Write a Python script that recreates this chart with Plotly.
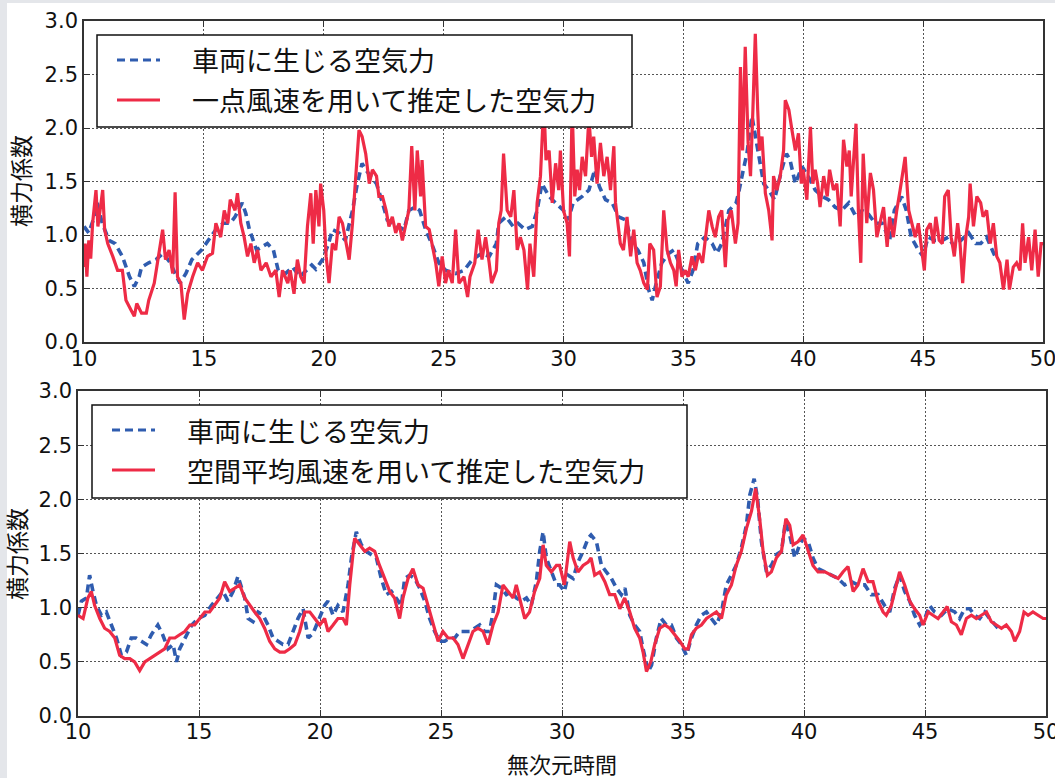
import plotly.graph_objects as go

# ---- Upper panel: force on the vehicle vs. estimate from single-point wind speed ----
top_blue_t = [10.0, 10.2, 10.4, 10.55, 10.76, 11.04, 11.3, 11.6, 11.9, 12.1, 12.3, 12.4, 12.7, 13.0, 13.3, 13.6,
              13.8, 14.0, 14.25, 14.5, 14.9, 15.2, 15.5, 15.8, 16.1, 16.3, 16.6, 16.75, 16.9, 17.2, 17.4, 17.65,
              17.9, 18.1, 18.4, 18.7, 19.0, 19.25, 19.5, 19.67, 19.95, 20.2, 20.36, 20.64, 20.9, 21.2, 21.4, 21.6,
              21.75, 21.96, 22.2, 22.45, 22.65, 22.86, 23.1, 23.35, 23.55, 23.8, 24.0, 24.25, 24.5, 24.8, 25.08,
              25.5, 25.85, 26.2, 26.6, 26.9, 27.2, 27.3, 27.6, 27.9, 28.1, 28.4, 28.7, 28.9, 29.1, 29.4, 29.67,
              30.0, 30.2, 30.4, 30.78, 31.06, 31.3, 31.5, 31.75, 32.03, 32.3, 32.6, 32.86, 33.1, 33.35, 33.55,
              33.7, 33.8, 34.1, 34.4, 34.6, 34.8, 35.0, 35.2, 35.4, 35.6, 35.9, 36.2, 36.4, 36.6, 36.9, 37.2, 37.3,
              37.5, 37.65, 37.86, 38.0, 38.2, 38.35, 38.56, 38.8, 39.1, 39.3, 39.45, 39.67, 39.95, 40.2, 40.5,
              40.8, 41.05, 41.33, 41.6, 41.9, 42.2, 42.45, 42.7, 43.0, 43.3, 43.6, 43.8, 44.1, 44.3, 44.5, 44.8,
              45.0, 45.2, 45.5, 45.8, 46.05, 46.3, 46.6, 46.9, 47.2, 47.4, 47.65, 47.86, 48.0]
top_blue_v = [1.08, 1.02, 1.15, 1.30, 1.11, 0.95, 0.92, 0.80, 0.61, 0.52, 0.61, 0.70, 0.74, 0.77, 0.83, 0.74,
              0.64, 0.55, 0.64, 0.77, 0.86, 0.95, 1.05, 1.11, 1.11, 1.17, 1.30, 1.20, 1.05, 0.86, 0.89, 0.92,
              0.86, 0.67, 0.64, 0.70, 0.61, 0.66, 0.72, 0.68, 0.77, 0.92, 1.05, 1.02, 0.95, 1.23, 1.48, 1.67,
              1.61, 1.55, 1.48, 1.30, 1.14, 1.11, 1.08, 1.05, 1.23, 1.26, 1.23, 1.05, 0.92, 0.74, 0.67,
              0.64, 0.67, 0.77, 0.83, 0.80, 0.92, 1.11, 1.17, 1.08, 1.11, 1.05, 1.08, 1.23, 1.48, 1.36, 1.30,
              1.23, 1.14, 1.30, 1.36, 1.42, 1.61, 1.45, 1.33, 1.30, 1.17, 1.14, 0.92, 0.86, 0.74, 0.49,
              0.39, 0.49, 0.74, 0.83, 0.86, 0.74, 0.64, 0.55, 0.67, 0.92, 0.98, 0.92, 0.83, 0.92, 1.23, 1.30, 1.39,
              1.61, 1.76, 2.11, 1.92, 1.67, 1.48, 1.42, 1.33, 1.61, 1.76, 1.70, 1.48, 1.64, 1.55, 1.42,
              1.36, 1.33, 1.26, 1.23, 1.30, 1.17, 1.23, 1.20, 1.11, 1.11, 0.95, 1.23, 1.36, 1.23, 0.98, 0.86,
              0.80, 0.98, 0.95, 0.95, 0.98, 0.89, 0.95, 1.02, 0.92, 0.92, 0.98, 0.86, 0.80]

top_red_t = [10.0, 10.05, 10.12, 10.2, 10.28, 10.36, 10.5, 10.58, 10.67, 10.78, 10.86, 10.99, 11.2, 11.4, 11.6,
             11.75, 11.96, 12.1, 12.2, 12.4, 12.6, 12.7, 12.93, 13.07, 13.28, 13.4, 13.55, 13.7, 13.8, 13.9,
             14.04, 14.18, 14.32, 14.53, 14.74, 14.94, 15.15, 15.36, 15.5, 15.7, 15.85, 16.0, 16.1, 16.3, 16.4,
             16.54, 16.68, 16.82, 16.96, 17.1, 17.24, 17.38, 17.6, 17.8, 18.0, 18.14, 18.28, 18.5, 18.6, 18.76,
             18.9, 19.04, 19.18, 19.32, 19.46, 19.56, 19.67, 19.8, 19.87, 20.0, 20.1, 20.22, 20.36, 20.5, 20.64,
             20.78, 20.92, 21.06, 21.2, 21.33, 21.47, 21.6, 21.75, 21.9, 22.03, 22.2, 22.3, 22.45, 22.6, 22.72,
             22.86, 23.0, 23.14, 23.28, 23.42, 23.55, 23.67, 23.8, 23.9, 24.04, 24.1, 24.25, 24.4, 24.5, 24.67,
             24.8, 24.94, 25.08, 25.2, 25.36, 25.5, 25.64, 25.85, 26.0, 26.1, 26.3, 26.44, 26.6, 26.75, 26.9,
             27.0, 27.2, 27.3, 27.4, 27.5, 27.65, 27.8, 27.93, 28.07, 28.2, 28.35, 28.5, 28.6, 28.76, 28.9,
             29.04, 29.18, 29.27, 29.4, 29.53, 29.67, 29.8, 29.87, 30.0, 30.15, 30.25, 30.36, 30.47, 30.57,
             30.67, 30.78, 30.92, 31.06, 31.17, 31.26, 31.4, 31.54, 31.68, 31.82, 31.96, 32.1, 32.17, 32.28,
             32.37, 32.5, 32.65, 32.8, 32.93, 33.07, 33.2, 33.35, 33.5, 33.6, 33.76, 33.9, 34.04, 34.18, 34.32,
             34.46, 34.6, 34.7, 34.8, 34.94, 35.08, 35.2, 35.36, 35.5, 35.64, 35.8, 35.9, 36.06, 36.2, 36.33,
             36.47, 36.6, 36.75, 36.86, 37.0, 37.17, 37.28, 37.38, 37.47, 37.58, 37.7, 37.8, 37.9, 38.0, 38.1,
             38.17, 38.28, 38.42, 38.56, 38.7, 38.76, 38.9, 39.04, 39.18, 39.25, 39.4, 39.53, 39.67, 39.8,
             39.92, 40.0, 40.15, 40.3, 40.4, 40.5, 40.6, 40.7, 40.85, 41.0, 41.1, 41.26, 41.4, 41.54, 41.68,
             41.82, 41.92, 42.0, 42.1, 42.2, 42.3, 42.4, 42.5, 42.65, 42.8, 42.93, 43.07, 43.2, 43.35, 43.5,
             43.6, 43.76, 43.9, 44.04, 44.14, 44.25, 44.4, 44.53, 44.67, 44.8, 44.9, 45.05, 45.15, 45.3, 45.43,
             45.53, 45.67, 45.8, 45.9, 46.05, 46.17, 46.3, 46.44, 46.54, 46.65, 46.78, 46.9, 46.96, 47.1, 47.24,
             47.4, 47.5, 47.65, 47.8, 47.93, 48.07, 48.2, 48.35, 48.5, 48.6, 48.76, 48.9, 49.04, 49.15, 49.25,
             49.4, 49.53, 49.67, 49.8, 49.92, 50.0]
top_red_v = [0.70, 0.92, 0.61, 0.95, 0.78, 1.11, 1.42, 1.08, 1.23, 1.42, 1.05, 0.92, 0.80, 0.67, 0.67,
             0.39, 0.30, 0.24, 0.36, 0.27, 0.27, 0.39, 0.55, 0.74, 1.05, 0.77, 0.86, 0.64, 1.40, 0.61,
             0.55, 0.21, 0.45, 0.61, 0.74, 0.67, 0.80, 0.83, 1.11, 0.98, 1.23, 1.11, 1.33, 1.23, 1.39,
             1.11, 0.98, 0.80, 0.92, 0.74, 0.86, 0.67, 0.74, 0.61, 0.67, 0.42, 0.67, 0.55, 0.67, 0.45,
             0.77, 0.61, 0.55, 1.08, 1.39, 0.92, 1.42, 1.08, 1.48, 1.23, 0.80, 0.55, 0.92, 0.86, 1.17,
             1.11, 0.92, 0.77, 1.11, 1.55, 1.98, 1.92, 1.76, 1.48, 1.61, 1.55, 1.36, 1.36, 1.23, 1.08,
             1.17, 1.02, 1.11, 0.95, 1.08, 1.23, 1.83, 1.23, 1.79, 1.36, 1.70, 1.08, 1.05, 0.92, 0.74,
             0.52, 0.80, 0.55, 0.67, 0.55, 1.05, 0.55, 0.61, 0.42, 0.61, 0.74, 1.05, 0.77, 0.98, 0.74,
             0.55, 0.67, 1.11, 1.23, 1.76, 1.23, 1.17, 1.42, 0.86, 0.98, 0.86, 0.49, 0.92, 0.61, 1.30,
             1.55, 2.25, 1.70, 1.79, 1.30, 1.67, 1.42, 1.79, 1.23, 1.11, 0.80, 2.20, 1.36, 1.61,
             1.42, 1.73, 1.55, 2.10, 1.73, 1.92, 1.48, 1.86, 1.55, 1.73, 1.42, 1.83, 1.30, 1.11,
             0.92, 0.86, 1.17, 0.80, 1.05, 0.74, 0.67, 0.55, 0.49, 0.92, 0.86, 0.42, 0.52, 1.23, 0.86,
             0.74, 0.67, 0.52, 0.86, 0.61, 0.67, 0.61, 0.80, 0.67, 0.83, 0.74, 0.95, 1.23, 1.08, 0.98,
             1.17, 1.23, 0.70, 1.14, 1.23, 0.92, 1.11, 2.57, 1.79, 2.76, 1.86, 1.55, 2.17, 2.88, 2.17,
             1.79, 1.92, 1.39, 1.23, 0.95, 1.55, 1.42, 1.55, 1.79, 2.26, 2.17, 1.98, 1.79, 1.95,
             1.48, 1.61, 1.33, 2.01, 1.48, 1.61, 1.48, 1.26, 1.55, 1.36, 1.61, 1.42, 1.48, 1.08, 1.89,
             1.64, 1.79, 1.36, 1.76, 2.04, 1.23, 0.74, 1.76, 1.11, 1.58, 1.42, 0.98, 1.11, 1.26, 0.89,
             1.17, 0.98, 1.23, 1.42, 1.55, 1.73, 1.23, 1.11, 0.98, 1.11, 0.92, 0.67, 1.05, 1.11, 0.92,
             1.17, 0.95, 0.92, 1.36, 1.42, 0.98, 0.80, 1.11, 0.92, 0.55, 0.98, 1.17, 1.48, 1.08, 1.36,
             1.30, 1.17, 1.23, 0.92, 1.11, 0.80, 0.74, 0.49, 0.77, 0.49, 0.70, 0.74, 0.67, 1.11, 0.74,
             0.98, 0.67, 1.05, 0.61, 0.92, 0.92]

# ---- Lower panel: force on the vehicle vs. estimate from spatially averaged wind speed ----
bot_blue_t = [10.0, 10.14, 10.35, 10.48, 10.62, 10.76, 10.97, 11.17, 11.38, 11.59, 11.79, 12.0, 12.2, 12.4,
              12.62, 12.83, 13.03, 13.3, 13.5, 13.72, 13.93, 14.07, 14.2, 14.41, 14.7, 14.96, 15.24, 15.51,
              15.79, 15.99, 16.2, 16.41, 16.61, 16.75, 16.89, 17.03, 17.23, 17.44, 17.65, 17.85, 18.06, 18.27,
              18.47, 18.68, 18.89, 19.09, 19.3, 19.51, 19.71, 19.99, 20.19, 20.33, 20.54, 20.74, 20.95, 21.16,
              21.3, 21.5, 21.71, 21.91, 22.12, 22.33, 22.53, 22.74, 22.95, 23.15, 23.36, 23.5, 23.71, 23.91,
              24.12, 24.33, 24.53, 24.74, 24.95, 25.15, 25.36, 25.57, 25.77, 25.98, 26.19, 26.39, 26.6, 26.8,
              27.01, 27.15, 27.29, 27.5, 27.7, 27.91, 28.11, 28.32, 28.53, 28.73, 28.94, 29.08, 29.22, 29.35,
              29.56, 29.77, 29.9, 30.1, 30.25, 30.46, 30.66, 30.87, 31.08, 31.2, 31.42, 31.63, 31.83, 32.04,
              32.25, 32.45, 32.6, 32.8, 33.0, 33.21, 33.35, 33.56, 33.7, 33.9, 34.1, 34.31, 34.52, 34.73,
              34.93, 35.14, 35.35, 35.55, 35.76, 35.97, 36.17, 36.38, 36.59, 36.79, 37.0, 37.2, 37.41, 37.62,
              37.76, 37.94, 38.08, 38.24, 38.45, 38.65, 38.86, 39.07, 39.23, 39.41, 39.62, 39.82, 39.96, 40.17,
              40.37, 40.58, 40.86, 41.13, 41.41, 41.68, 41.96, 42.23, 42.51, 42.78, 43.06, 43.33, 43.54, 43.75,
              43.95, 44.16, 44.37, 44.57, 44.78, 44.99, 45.19, 45.4, 45.68, 45.95, 46.23, 46.43, 46.64, 46.85,
              47.05, 47.26, 47.47, 47.67, 47.88, 48.02]
bot_blue_v = [0.93, 1.06, 1.09, 1.30, 1.15, 1.02, 0.93, 0.96, 0.84, 0.72, 0.56, 0.59, 0.72, 0.72,
              0.69, 0.66, 0.75, 0.84, 0.75, 0.62, 0.66, 0.50, 0.62, 0.72, 0.84, 0.90, 0.93, 1.02,
              1.09, 1.15, 1.06, 1.15, 1.29, 1.18, 1.09, 0.90, 0.87, 0.96, 0.93, 0.84, 0.72, 0.69,
              0.66, 0.66, 0.78, 0.90, 0.99, 0.72, 0.76, 0.90, 1.02, 1.06, 0.93, 1.02, 0.96, 1.21,
              1.46, 1.70, 1.58, 1.52, 1.49, 1.46, 1.27, 1.12, 1.15, 1.09, 1.02, 1.27, 1.30, 1.27,
              1.18, 1.06, 0.90, 0.78, 0.69, 0.69, 0.72, 0.72, 0.78, 0.78, 0.78, 0.81, 0.84, 0.78,
              0.78, 0.96, 1.21, 1.18, 1.12, 1.15, 1.09, 1.06, 1.09, 1.02, 1.24, 1.52, 1.70, 1.46,
              1.33, 1.21, 1.21, 1.15, 1.30, 1.27, 1.42, 1.52, 1.64, 1.67, 1.61, 1.39, 1.33, 1.27,
              1.18, 1.12, 1.18, 0.93, 0.84, 0.78, 0.62, 0.41, 0.47, 0.72, 0.90, 0.84, 0.84, 0.72,
              0.66, 0.56, 0.72, 0.84, 0.93, 0.96, 0.90, 0.84, 0.96, 1.21, 1.30, 1.39, 1.55, 1.76,
              2.04, 2.19, 2.01, 1.61, 1.33, 1.39, 1.49, 1.52, 1.79, 1.67, 1.46, 1.58, 1.64, 1.61,
              1.46, 1.36, 1.33, 1.30, 1.27, 1.21, 1.24, 1.21, 1.21, 1.12, 1.12, 1.02, 0.96, 1.18,
              1.30, 1.15, 1.06, 0.93, 0.84, 0.90, 1.02, 0.96, 0.93, 0.99, 0.96, 0.90, 0.99, 0.99,
              0.93, 0.90, 0.96, 0.90, 0.84, 0.81]

bot_red_t = [10.0, 10.21, 10.41, 10.55, 10.69, 10.9, 11.1, 11.31, 11.52, 11.72, 11.93, 12.14, 12.34, 12.55,
             12.76, 12.96, 13.17, 13.38, 13.58, 13.79, 14.0, 14.2, 14.41, 14.62, 14.82, 15.03, 15.24, 15.44,
             15.65, 15.86, 16.06, 16.27, 16.48, 16.68, 16.89, 17.1, 17.3, 17.51, 17.71, 17.92, 18.13, 18.34,
             18.54, 18.75, 18.96, 19.16, 19.37, 19.58, 19.78, 19.99, 20.19, 20.33, 20.54, 20.74, 20.95, 21.09,
             21.23, 21.43, 21.64, 21.85, 22.05, 22.26, 22.46, 22.67, 22.88, 23.08, 23.29, 23.43, 23.64, 23.84,
             24.05, 24.26, 24.46, 24.67, 24.88, 25.08, 25.29, 25.5, 25.7, 25.91, 26.12, 26.32, 26.53, 26.74,
             26.94, 27.15, 27.36, 27.56, 27.77, 27.98, 28.11, 28.32, 28.46, 28.66, 28.87, 29.08, 29.22, 29.35,
             29.56, 29.77, 29.9, 30.1, 30.32, 30.46, 30.66, 30.87, 31.08, 31.2, 31.35, 31.56, 31.77, 31.97,
             32.18, 32.39, 32.59, 32.8, 33.0, 33.21, 33.35, 33.49, 33.67, 33.83, 34.04, 34.25, 34.45, 34.66,
             34.87, 35.07, 35.21, 35.35, 35.55, 35.76, 35.97, 36.17, 36.38, 36.59, 36.79, 37.0, 37.2, 37.41,
             37.62, 37.83, 38.0, 38.17, 38.31, 38.49, 38.65, 38.86, 39.07, 39.25, 39.41, 39.55, 39.76, 39.96,
             40.17, 40.37, 40.58, 40.86, 41.13, 41.41, 41.61, 41.82, 42.03, 42.23, 42.44, 42.65, 42.85, 43.06,
             43.27, 43.4, 43.61, 43.82, 43.95, 44.16, 44.37, 44.57, 44.78, 44.92, 45.13, 45.33, 45.54, 45.75,
             45.92, 46.09, 46.3, 46.5, 46.71, 46.92, 47.12, 47.33, 47.54, 47.74, 47.95, 48.16, 48.36, 48.57,
             48.71, 48.91, 49.09, 49.26, 49.46, 49.67, 49.88, 50.0]
bot_red_v = [0.93, 0.90, 1.09, 1.15, 1.02, 0.90, 0.81, 0.78, 0.72, 0.56, 0.53, 0.53, 0.50, 0.42,
             0.50, 0.53, 0.56, 0.59, 0.62, 0.72, 0.72, 0.75, 0.78, 0.84, 0.84, 0.90, 0.96, 0.96,
             1.02, 1.09, 1.24, 1.15, 1.18, 1.21, 1.09, 1.02, 0.96, 0.90, 0.81, 0.69, 0.62, 0.59,
             0.59, 0.62, 0.66, 0.78, 0.96, 0.96, 0.90, 0.84, 0.90, 0.78, 0.84, 0.90, 0.90, 0.84,
             1.21, 1.64, 1.58, 1.52, 1.55, 1.52, 1.39, 1.27, 1.15, 1.09, 0.90, 1.09, 1.27, 1.36,
             1.21, 1.18, 1.02, 0.84, 0.69, 0.78, 0.72, 0.72, 0.66, 0.53, 0.66, 0.78, 0.81, 0.78,
             0.66, 0.84, 0.96, 1.21, 1.15, 1.09, 1.21, 1.02, 0.90, 0.96, 1.15, 1.27, 1.58, 1.39,
             1.33, 1.39, 1.39, 1.21, 1.61, 1.46, 1.33, 1.39, 1.42, 1.46, 1.30, 1.33, 1.24, 1.12,
             1.12, 0.99, 1.09, 0.96, 0.81, 0.72, 0.59, 0.41, 0.50, 0.66, 0.81, 0.84, 0.81, 0.75,
             0.69, 0.62, 0.62, 0.75, 0.81, 0.84, 0.90, 0.93, 0.96, 0.90, 1.12, 1.21, 1.39, 1.52,
             1.73, 1.89, 2.10, 1.82, 1.52, 1.30, 1.33, 1.46, 1.52, 1.82, 1.76, 1.58, 1.61, 1.67,
             1.52, 1.39, 1.33, 1.33, 1.30, 1.27, 1.33, 1.38, 1.15, 1.21, 1.36, 1.24, 1.24, 1.06,
             0.96, 0.93, 1.02, 1.21, 1.33, 1.21, 1.06, 0.99, 0.93, 0.84, 0.96, 0.93, 0.90, 0.96,
             1.01, 0.87, 0.84, 0.75, 0.90, 0.93, 0.90, 0.93, 0.96, 0.87, 0.84, 0.81, 0.84, 0.78,
             0.69, 0.78, 0.96, 0.93, 0.96, 0.93, 0.90, 0.90]

# ---- Text ----
name_vehicle = "車両に生じる空気力"
name_point = "一点風速を用いて推定した空気力"
name_spatial = "空間平均風速を用いて推定した空気力"
y_title = "横力係数"
x_title = "無次元時間"

x_ticks = [10, 15, 20, 25, 30, 35, 40, 45, 50]
y_ticks = [0.0, 0.5, 1.0, 1.5, 2.0, 2.5, 3.0]

BLUE = "#2f5caf"
RED = "#ee2b46"
EDGE = "#e4e6ea"
W, H = 1055, 778
CJK = "Noto Sans CJK JP"
NUM = "DejaVu Sans"
BLUE_DASH = "8px,5px"


def px(x):
    return x / W


def py(y):
    return 1 - y / H


fig = go.Figure()
fig.add_trace(go.Scatter(x=top_blue_t, y=top_blue_v, mode="lines", name=name_vehicle,
                         line=dict(color=BLUE, width=3.6, dash=BLUE_DASH), xaxis="x", yaxis="y",
                         showlegend=False))
fig.add_trace(go.Scatter(x=top_red_t, y=top_red_v, mode="lines", name=name_point,
                         line=dict(color=RED, width=3.2), xaxis="x", yaxis="y", showlegend=False))
fig.add_trace(go.Scatter(x=bot_blue_t, y=bot_blue_v, mode="lines", name=name_vehicle,
                         line=dict(color=BLUE, width=3.6, dash=BLUE_DASH), xaxis="x2", yaxis="y2",
                         showlegend=False))
fig.add_trace(go.Scatter(x=bot_red_t, y=bot_red_v, mode="lines", name=name_spatial,
                         line=dict(color=RED, width=3.2), xaxis="x2", yaxis="y2", showlegend=False))

axis_common = dict(
    showline=True, linecolor="#333333", linewidth=1.6, mirror="allticks",
    ticks="inside", ticklen=6, tickwidth=1, tickcolor="#333333",
    showgrid=True, gridcolor="#555555", gridwidth=1, griddash="1.5px,2.5px",
    zeroline=False, tickfont=dict(family=NUM, size=21, color="#111111"),
    ticklabeloverflow="allow", automargin=False,
)

fig.update_layout(
    width=W, height=H, autosize=False,
    margin=dict(l=0, r=0, t=0, b=0, pad=0, autoexpand=False),
    paper_bgcolor="white", plot_bgcolor="white",
    xaxis=dict(domain=[px(84), px(1043)], range=[10, 50], tickvals=x_ticks, anchor="y",
               ticklabelstandoff=-3, **axis_common),
    yaxis=dict(domain=[py(342), py(21)], range=[0, 3], tickvals=y_ticks, tickformat=".1f",
               anchor="x", ticklabelstandoff=0, **axis_common),
    xaxis2=dict(domain=[px(78), px(1046)], range=[10, 50], tickvals=x_ticks, anchor="y2",
                ticklabelstandoff=-4, **axis_common),
    yaxis2=dict(domain=[py(716), py(391)], range=[0, 3], tickvals=y_ticks, tickformat=".1f",
                anchor="x2", ticklabelstandoff=0, **axis_common),
)

shapes = []
annotations = []

# thin light-grey frame strips along the left and top edges of the page
shapes.append(dict(type="rect", xref="paper", yref="paper", x0=0, x1=px(7), y0=0, y1=1,
                   fillcolor=EDGE, line=dict(width=0), layer="below"))
shapes.append(dict(type="rect", xref="paper", yref="paper", x0=0, x1=1, y0=py(3), y1=1,
                   fillcolor=EDGE, line=dict(width=0), layer="below"))


def add_legend(box, rows):
    x0, y0, x1, y1 = box
    shapes.append(dict(type="rect", xref="paper", yref="paper", x0=px(x0), x1=px(x1), y0=py(y1), y1=py(y0),
                       fillcolor="white", line=dict(color="#111111", width=1.5), layer="above"))
    for (label, color, dash, yrow) in rows:
        shapes.append(dict(type="line", xref="paper", yref="paper", x0=px(x0 + 20), x1=px(x0 + 63),
                           y0=py(yrow), y1=py(yrow), line=dict(color=color, width=3.2, dash=dash),
                           layer="above"))
        annotations.append(dict(text=label, xref="paper", yref="paper", x=px(x0 + 93), y=py(yrow),
                                xanchor="left", yanchor="middle", showarrow=False,
                                font=dict(family=CJK, size=27, color="#111111")))


add_legend((97, 35, 632, 127), [(name_vehicle, BLUE, BLUE_DASH, 60), (name_point, RED, "solid", 100)])
add_legend((92, 405, 687, 498), [(name_vehicle, BLUE, BLUE_DASH, 430), (name_spatial, RED, "solid", 470)])

annotations.append(dict(text=y_title, xref="paper", yref="paper", x=px(20), y=py(181), textangle=-90,
                        xanchor="center", yanchor="middle",
                        showarrow=False, font=dict(family=CJK, size=23, color="#111111")))
annotations.append(dict(text=y_title, xref="paper", yref="paper", x=px(16), y=py(554), textangle=-90,
                        xanchor="center", yanchor="middle",
                        showarrow=False, font=dict(family=CJK, size=23, color="#111111")))
annotations.append(dict(text=x_title, xref="paper", yref="paper", x=px(562), y=py(763),
                        xanchor="center", yanchor="middle", borderpad=0,
                        showarrow=False, font=dict(family=CJK, size=22, color="#111111")))

fig.update_layout(shapes=shapes, annotations=annotations)
# pin the figure to the window's top-left corner and drop the page's default body margin
page_js = (
    "document.documentElement.style.margin='0';"
    "document.body.style.margin='0';"
    "document.body.style.padding='0';"
    "document.body.style.background='" + EDGE + "';"
    "var gd=document.getElementById('{plot_id}');"
    "gd.style.position='fixed';gd.style.left='0px';gd.style.top='0px';"
)
fig.write_html("out.html", post_script=page_js)
